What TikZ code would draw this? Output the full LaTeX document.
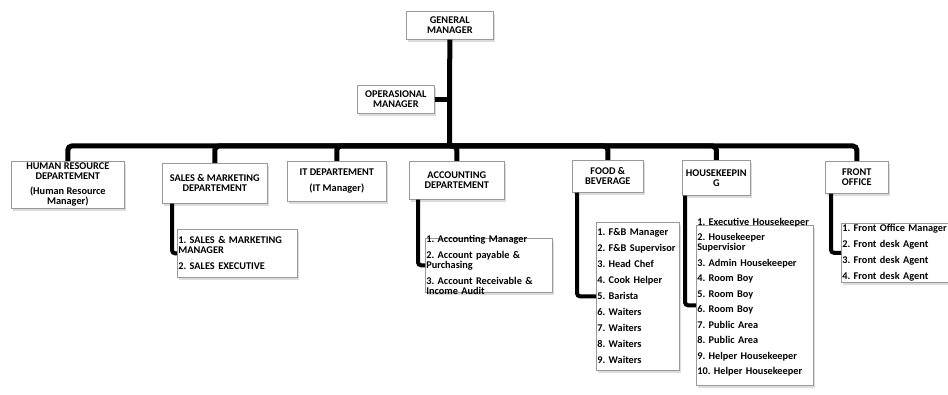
\documentclass[tikz,border=0pt]{standalone}
\usepackage{fontspec}
\setmainfont{Carlito}
\frenchspacing
\usetikzlibrary{shadows}
\tikzset{
  unit/.style={draw=gray!80, fill=white, line width=0.6pt, align=center, anchor=north west,
    font=\bfseries\fontsize{10.3}{10}\selectfont, inner sep=1pt,
    drop shadow={shadow xshift=1.5pt, shadow yshift=-2.5pt, fill=gray!55}},
  staff/.style={unit, align=left},
  trunk/.style={line width=5pt, rounded corners=4pt},
  branch/.style={line width=4pt, rounded corners=3pt}
}
\begin{document}
\begin{tikzpicture}[x=1pt, y=-1pt]
\useasboundingbox (0,0) rectangle (948,395);
		\coordinate (hub) at (449.5,146);
		\node[unit, minimum width=87, minimum height=28] (gm) at (406,11) {GENERAL\\MANAGER};
		\node[unit, minimum width=77, minimum height=28] (om) at (357,85) {OPERASIONAL\\MANAGER};
		\draw[trunk] (gm.south) -- (hub);
		\draw[line width=5pt] (om.east) -- (om.east -| gm.south);

		\node[unit, minimum width=113, minimum height=47, inner ysep=-3pt] (hr) at (11,161) {HUMAN RESOURCE\\DEPARTEMENT\\[5pt](Human Resource\\Manager)};
		\node[unit, minimum width=105, minimum height=40] (sm) at (162,163) {SALES \& MARKETING\\DEPARTEMENT};
		\node[unit, minimum width=99, minimum height=40] (it) at (287,161) {IT DEPARTEMENT\\[6pt](IT Manager)};
		\node[unit, minimum width=95, minimum height=38] (acc) at (409,161) {ACCOUNTING\\DEPARTEMENT};
		\node[unit, minimum width=71, minimum height=32] (fb) at (572,160) {FOOD \&\\BEVERAGE};
		\node[unit, minimum width=68, minimum height=35] (hk) at (682,160) {HOUSEKEEPIN\\G};
		\node[unit, minimum width=63, minimum height=32] (fo) at (825,161) {FRONT\\OFFICE};

		\foreach \dept in {hr,sm,it,acc,fb,hk,fo}
			\draw[trunk] (hub) -| (\dept.north);

		\node[staff, text width=118, minimum height=48] (smlist) at (177,229) {1. SALES \& MARKETING\\MANAGER\\[6pt]2. SALES EXECUTIVE};
		\node[staff, text width=125, minimum height=54, inner ysep=-3pt] (acclist) at (425,238) {1. Accounting Manager\\[6pt]2. Account payable \&\\Purchasing\\[6pt]3. Account Receivable \&\\Income Audit};
		\node[staff, text width=81, minimum height=148] (fblist) at (596,222) {1. F\&B Manager\\[6pt]2. F\&B Supervisor\\[6pt]3. Head Chef\\[6pt]4. Cook Helper\\[6pt]5. Barista\\[6pt]6. Waiters\\[6pt]7. Waiters\\[6pt]8. Waiters\\[6pt]9. Waiters};
		\node[staff, text width=115, minimum height=160, inner ysep=-9pt] (hklist) at (696,225) {1. Executive Housekeeper\\[5.5pt]2. Housekeeper\\Supervisior\\[5.5pt]3. Admin Housekeeper\\[5.5pt]4. Room Boy\\[5.5pt]5. Room Boy\\[5.5pt]6. Room Boy\\[5.5pt]7. Public Area\\[5.5pt]8. Public Area\\[5.5pt]9. Helper Housekeeper\\[5.5pt]10. Helper Housekeeper\\[8pt]\mbox{}};
		\node[staff, text width=105, minimum height=57] (folist) at (841,223) {1. Front Office Manager\\[6pt]2. Front desk Agent\\[6pt]3. Front desk Agent\\[6pt]4. Front desk Agent};

		\draw[branch] ([xshift=10]sm.south west) |- (smlist.west);
		\draw[branch] ([xshift=9]acc.south west) |- (acclist.west);
		\draw[branch] ([xshift=5]fb.south west) |- (fblist.west);
		\draw[branch] ([xshift=3]hk.south west) |- (hklist.west);
		\draw[branch] ([xshift=6]fo.south west) |- (folist.west);
\end{tikzpicture}
\end{document}
